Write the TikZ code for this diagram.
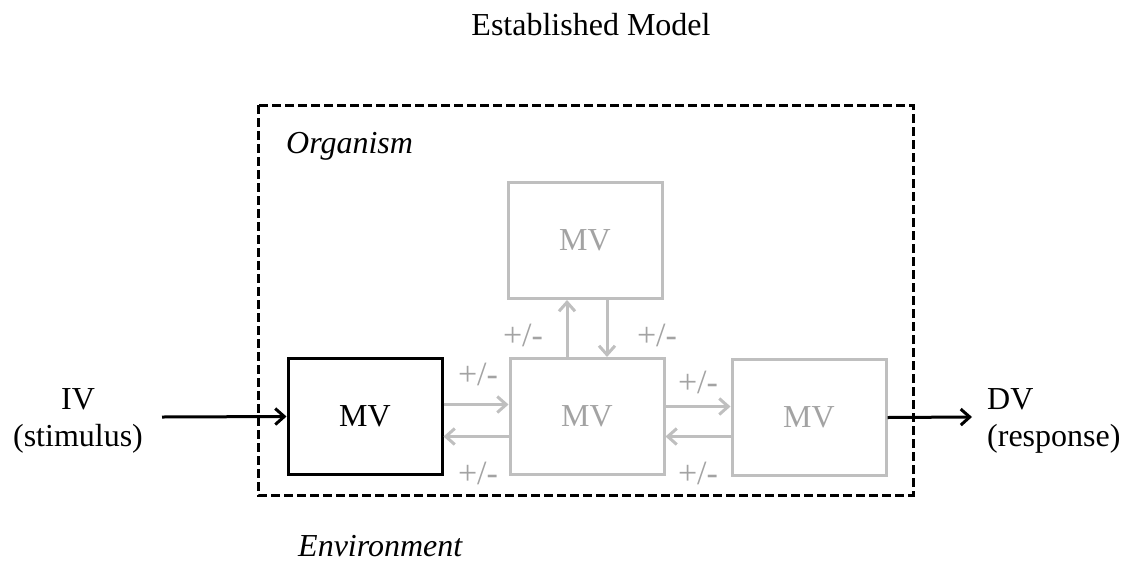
\documentclass[tikz,border=0pt]{standalone}
\usepackage{fontspec}
\setmainfont{Liberation Serif}
\usepackage{xcolor}
\usetikzlibrary{arrows.meta, positioning}

\definecolor{mvgray}{HTML}{BFBFBF}
\definecolor{mvtext}{HTML}{A3A3A3}

\tikzset{
	mvbox/.style={draw, line width=3pt, minimum width=154pt, minimum height=116pt, inner sep=0pt, font=\fontsize{32}{38}\selectfont},
	greymv/.style={mvbox, draw=mvgray, text=mvtext},
	greyarrow/.style={draw=mvgray, line width=3pt, -{Straight Barb[length=9pt, width=16pt]}},
	blackarrow/.style={line width=3pt, -{Straight Barb[length=9pt, width=16pt]}},
	pm/.style={text=mvtext, font=\fontsize{34}{38}\selectfont, inner sep=0pt},
	bigtext/.style={font=\fontsize{32}{37}\selectfont, inner sep=0pt},
}

\begin{document}
\begin{tikzpicture}[x=1pt, y=-1pt]
			\useasboundingbox (0, 0) rectangle (1137, 563);
			% Title and environment box:
			\node[bigtext, anchor=base](title) at (591, 35){Established Model};
			\draw[line width=3pt, dash pattern=on 9pt off 4pt] (258, 105) rectangle (913, 495);
			\node[bigtext, anchor=base west](org) at (286, 153){\itshape Organism};
			\node[bigtext, anchor=base west](env) at (298, 556){\itshape Environment};
			% Boxes:
			\node[mvbox](lmv) at (365, 416.5){\raisebox{-2pt}{MV}};
			\node[greymv](cmv) at (587, 416.5){\raisebox{-2pt}{MV}};
			\node[greymv](tmv) at (585, 240.5){\raisebox{-2pt}{MV}};
			\node[greymv](rmv) at (809, 417.5){\raisebox{-2pt}{MV}};
			% Input and output:
			\node[bigtext, align=center](iv) at (78, 421){IV\\(stimulus)};
			\node[bigtext, align=left, anchor=west](dv) at (987, 421){DV\\(response)};
			\coordinate (ivstart) at (162, 417);
			\coordinate (dvend) at (972, 417);
			\draw[blackarrow] (ivstart) -- (lmv.west);
			\draw[blackarrow] (rmv.east) -- (dvend);
			% Paths between the MV boxes:
			\draw[greyarrow] ([yshift=12pt]lmv.east) -- ([yshift=12pt]cmv.west);
			\draw[greyarrow] ([yshift=-20pt]cmv.west) -- ([yshift=-20pt]lmv.east);
			\draw[greyarrow] ([yshift=10pt]cmv.east) -- ([yshift=10pt]cmv.east -| rmv.west);
			\draw[greyarrow] ([yshift=-19pt]rmv.west) -- ([yshift=-19pt]rmv.west -| cmv.east);
			\draw[greyarrow] ([xshift=-20pt]cmv.north) -- ([xshift=-20pt]cmv.north |- tmv.south);
			\draw[greyarrow] ([xshift=20pt]cmv.north |- tmv.south) -- ([xshift=20pt]cmv.north);
			% Signs:
			\node[pm](pm1) at (523, 335){+/-};
			\node[pm](pm2) at (657, 335){+/-};
			\node[pm](pm3) at (478, 374){+/-};
			\node[pm](pm4) at (478, 473){+/-};
			\node[pm](pm5) at (698, 382){+/-};
			\node[pm](pm6) at (698, 473){+/-};
		\end{tikzpicture}
\end{document}
